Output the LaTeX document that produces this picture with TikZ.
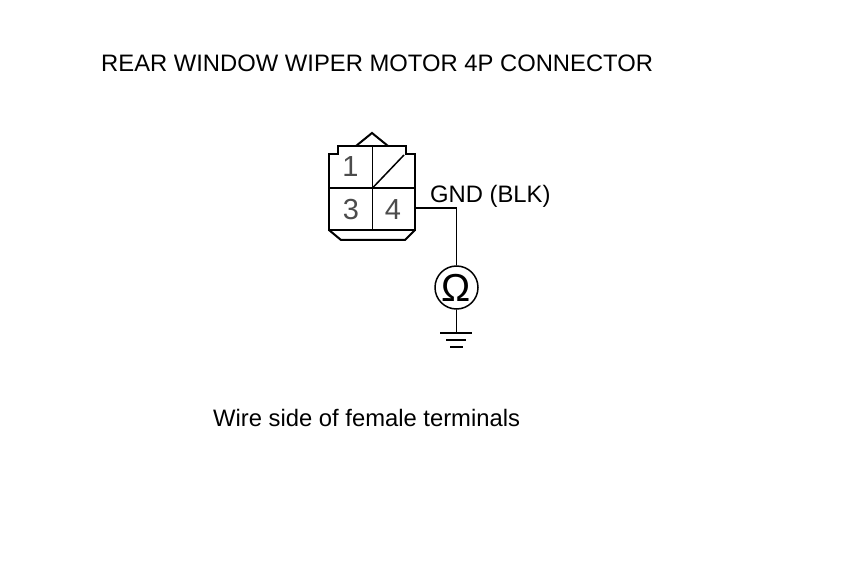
\documentclass[tikz,border=0pt]{standalone}
\usepackage{fontspec}
\setmainfont{Liberation Sans}
\tikzset{
  px/.style={x=1pt,y=-1pt},
  thick line/.style={line width=2pt,line join=miter,black},
  thin line/.style={line width=1.5pt,black},
  label text/.style={inner sep=0pt,anchor=base west,font=\fontsize{23.8}{28}\selectfont,text=black},
  pin text/.style={inner sep=0pt,font=\fontsize{29}{32}\selectfont,text=black!70},
  meter/.style={circle,draw=black,line width=1.5pt,minimum size=43pt,inner sep=0pt}
}
\begin{document}
\begin{tikzpicture}[px]
\useasboundingbox (0,0) rectangle (860,580);
\fill[white] (0,0) rectangle (860,580);
\node[label text] (title) at (101,72) {REAR WINDOW WIPER MOTOR 4P CONNECTOR};
\node[label text] (caption) at (213,426) {Wire side of female terminals};
\node[label text] (gnd) at (430,203) {GND (BLK)};
% connector housing
\draw[thick line] (329,230) -- (329,154) -- (338,154) -- (338,146) -- (406,146) -- (406,154) -- (415,154) -- (415,230) -- cycle;
\draw[thick line] (329,230) -- (341,240) -- (405,240) -- (415,230);
\draw[thick line] (356,146) -- (372,133) -- (388,146);
\draw[thin line] (372.5,146) -- (372.5,230);
\draw[thin line] (329,188) -- (415,188);
\draw[thin line] (372.5,188) -- (404,155);
\node[pin text] (pin1) at (350.5,167) {1};
\node[pin text] (pin3) at (351,210) {3};
\node[pin text] (pin4) at (393,210) {4};
% wiring
\coordinate (term) at (415,208);
\coordinate (bend) at (456.5,208);
\node[meter] (ohm) at (456.5,287.5) {\fontsize{39}{40}\selectfont\char"03A9};
\coordinate (earth) at (456.5,333);
\draw[thin line] (term) -- (bend) -- (ohm);
\draw[thin line] (ohm) -- (earth);
\draw[thin line] (440,333) -- (earth) -- (472,333);
\draw[thin line] (446,340) -- (466,340);
\draw[thin line] (450,347) -- (463,347);
\end{tikzpicture}
\end{document}
